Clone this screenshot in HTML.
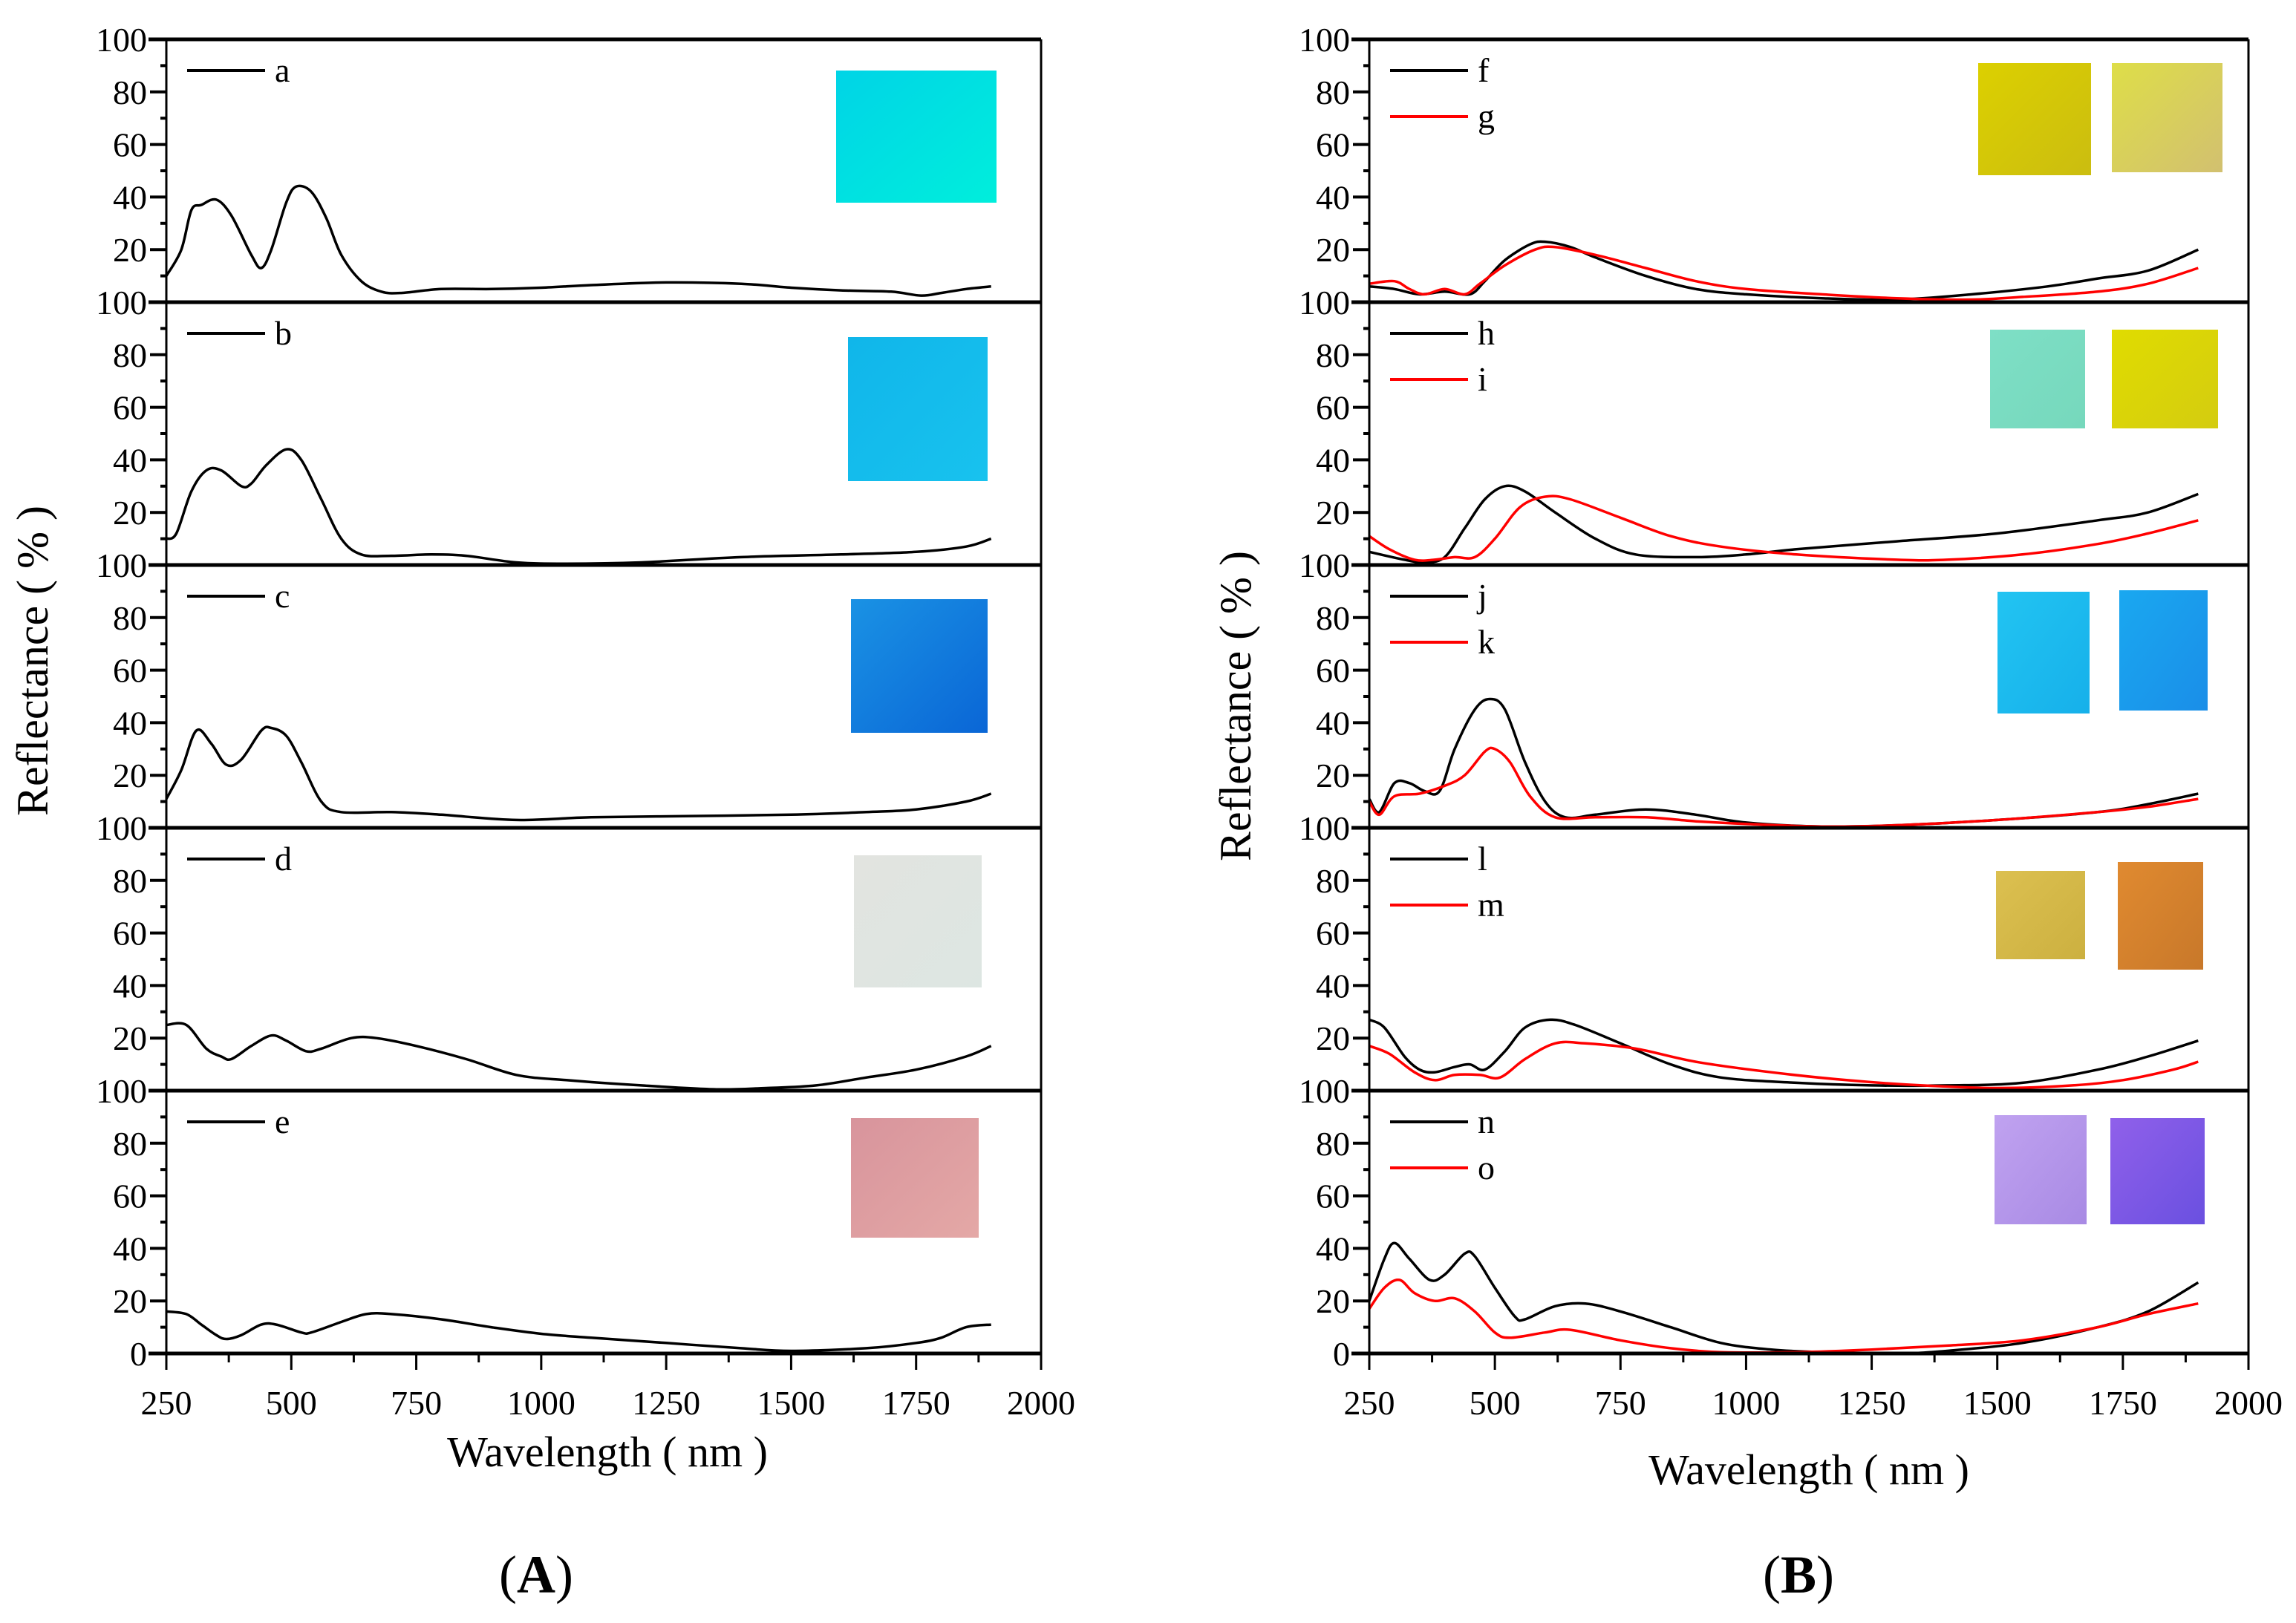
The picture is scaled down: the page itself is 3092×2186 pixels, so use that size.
<!DOCTYPE html>
<html><head><meta charset="utf-8"><style>
html,body{margin:0;padding:0;background:#fff;}
svg{display:block;font-family:"Liberation Serif",serif;}
</style></head><body>
<svg id="fig" width="3092" height="2186" viewBox="0 0 3092 2186" xmlns="http://www.w3.org/2000/svg">
<text x="44" y="890" font-size="60" text-anchor="middle" transform="rotate(-90 44 890) translate(0 20)">Reflectance ( % )</text>
<text x="1664" y="951" font-size="60" text-anchor="middle" transform="rotate(-90 1664 951) translate(0 20)">Reflectance ( % )</text>
<text x="818" y="1975" font-size="58" text-anchor="middle">Wavelength ( nm )</text>
<text x="2436" y="1999" font-size="58" text-anchor="middle">Wavelength ( nm )</text>
<text x="722" y="2145" font-size="72" text-anchor="middle">(<tspan font-weight="bold">A</tspan>)</text>
<text x="2422" y="2145" font-size="72" text-anchor="middle">(<tspan font-weight="bold">B</tspan>)</text>
</svg>
<script>
const xTicks = [250,500,750,1000,1250,1500,1750,2000];
const yTicks = [0,20,40,60,80,100];
const curveA = [[250,10],[280,20],[300,35],[320,37],[350,39],[380,33],[420,18],[440,13],[460,20],[490,38],[510,44],[540,42],[570,32],[600,18],[640,8],[680,4],[720,3.5],[800,5],[900,5],[1000,5.5],[1100,6.5],[1250,7.5],[1400,7],[1500,5.5],[1600,4.5],[1700,4],[1760,2.5],[1800,3.5],[1850,5],[1900,6]];
const curveB = [[250,10],[270,12],[300,28],[330,36],[360,36],[400,30],[420,31],[450,38],[490,44],[520,40],[560,25],[600,10],[640,4],[700,3.5],[780,4],[850,3.5],[950,1],[1050,0.5],[1200,1],[1400,3],[1600,4],[1750,5],[1850,7],[1900,10]];
const curveC = [[250,11],[280,22],[310,37],[340,32],[370,24],[400,26],[440,37],[460,38],[490,35],[520,25],[560,10],[600,6],[700,6],[800,5],[950,3],[1100,4],[1300,4.5],[1500,5],[1650,6],[1750,7],[1850,10],[1900,13]];
const curveD = [[250,25],[290,25],[330,16],[360,13],[380,12],[420,17],[460,21],[490,19],[530,15],[560,16],[620,20],[670,20],[750,17],[850,12],[950,6],[1050,4],[1200,2],[1350,0.5],[1450,1],[1550,2],[1650,5],[1750,8],[1850,13],[1900,17]];
const curveE = [[250,16],[290,15],[320,11],[350,7],[370,5.5],[400,7],[440,11],[470,11],[520,8],[540,8],[600,12],[650,15],[700,15],[800,13],[900,10],[1000,7.5],[1100,6],[1250,4],[1400,2],[1500,1],[1650,2],[1750,4],[1800,6],[1850,10],[1900,11]];
const curveF = [[250,6],[300,5],[350,3],[400,4],[450,3],[480,8],[520,16],[570,22],[600,23],[650,21],[700,17],[800,10],[900,5],[1000,3],[1150,1.5],[1300,1],[1450,3],[1600,6],[1700,9],[1800,12],[1900,20]];
const curveG = [[250,7],[300,8],[330,5],[360,3],[400,5],[440,3],[470,7],[520,14],[580,20],[620,21],[700,18],[800,13],[900,8],[1000,5],[1150,3],[1300,1.5],[1450,1],[1550,2],[1700,4],[1800,7],[1900,13]];
const curveH = [[250,5],[320,2],[360,1],[400,3],[440,14],[480,25],[520,30],[560,28],[620,20],[700,10],[780,4],[900,3],[1000,4],[1100,6],[1300,9],[1500,12],[1700,17],[1800,20],[1900,27]];
const curveI = [[250,11],[290,6],[340,2],[380,2],[420,3],[460,3],[500,10],[550,22],[600,26],[650,25],[750,18],[850,11],[950,7],[1100,4],[1300,2],[1400,2],[1550,4],[1700,8],[1800,12],[1900,17]];
const curveJ = [[250,11],[270,6],[300,17],[330,17],[360,14],[390,14],[420,30],[460,45],[490,49],[520,45],[560,25],[600,10],[640,4],[700,5],[800,7],[900,5],[1000,2],[1150,0.5],[1300,1],[1500,3],[1700,6],[1800,9],[1900,13]];
const curveK = [[250,10],[270,5],[300,12],[350,13],[400,16],[440,20],[480,29],[500,30],[530,25],[570,12],[620,4],[700,4],[800,4],[900,2.5],[1000,1.5],[1150,0.5],[1300,1],[1500,3],[1700,6],[1800,8],[1900,11]];
const curveL = [[250,27],[280,24],[320,13],[350,8],[380,7],[420,9],[450,10],[480,8],[520,15],[560,24],[610,27],[660,25],[750,18],[850,10],[950,5],[1100,3],[1250,2],[1400,2],[1550,3],[1700,8],[1800,13],[1900,19]];
const curveM = [[250,17],[290,14],[340,7],[380,4],[420,6],[470,6],[510,5],[560,12],[620,18],[680,18],[780,16],[900,11],[1050,7],[1200,4],[1350,2],[1500,1],[1650,2],[1750,4],[1850,8],[1900,11]];
const curveN = [[250,20],[280,36],[300,42],[330,36],[370,28],[400,30],[440,38],[460,37],[500,25],[540,14],[560,13],[620,18],[680,19],[750,16],[850,10],[950,4],[1050,1.5],[1150,0.5],[1300,0],[1400,1],[1550,4],[1700,10],[1800,16],[1900,27]];
const curveO = [[250,17],[280,25],[310,28],[340,23],[380,20],[420,21],[460,16],[500,8],[530,6],[600,8],[650,9],[750,5],[850,2],[950,0.5],[1100,0.5],[1250,1.5],[1400,3],[1550,5],[1700,10],[1800,15],[1900,19]];

const NS='http://www.w3.org/2000/svg';
const svg=document.getElementById('fig');
function mk(tag,attrs,parent){const e=document.createElementNS(NS,tag);for(const k in attrs)e.setAttribute(k,attrs[k]);(parent||svg).appendChild(e);return e;}
const P0=53, PH=354;
const cols=[{x0:224,x1:1402},{x0:1844,x1:3028}];
function xs(c,w){return c.x0+(w-250)/(2000-250)*(c.x1-c.x0);}
function ys(i,v){return P0+(i+1)*PH - v/100*PH;}
function pathD(c,i,pts){
  const p=pts.map(q=>[xs(c,q[0]),ys(i,q[1])]);
  let d='M'+p[0][0].toFixed(1)+','+p[0][1].toFixed(1);
  for(let k=0;k<p.length-1;k++){
    const a=p[Math.max(0,k-1)],b=p[k],c2=p[k+1],e=p[Math.min(p.length-1,k+2)];
    const c1x=b[0]+(c2[0]-a[0])/6,c1y=b[1]+(c2[1]-a[1])/6,c3x=c2[0]-(e[0]-b[0])/6,c3y=c2[1]-(e[1]-b[1])/6;
    d+=' C'+c1x.toFixed(1)+','+c1y.toFixed(1)+' '+c3x.toFixed(1)+','+c3y.toFixed(1)+' '+c2[0].toFixed(1)+','+c2[1].toFixed(1);
  }
  return d;
}
const panels=[
 {col:0,i:0,series:[['a',curveA,'#000']],sw:[[1126,95,216,178,'#00d4e6','#00eedc']]},
 {col:0,i:1,series:[['b',curveB,'#000']],sw:[[1142,454,188,194,'#10b6ea','#18c2ee']]},
 {col:0,i:2,series:[['c',curveC,'#000']],sw:[[1146,807,184,180,'#1a92e4','#0a66d6']]},
 {col:0,i:3,series:[['d',curveD,'#000']],sw:[[1150,1152,172,178,'#e2e4e0','#dde6e2']]},
 {col:0,i:4,series:[['e',curveE,'#000']],sw:[[1146,1506,172,161,'#d8949c','#e4a8a6']]},
 {col:1,i:0,series:[['f',curveF,'#000'],['g',curveG,'#f00']],sw:[[2664,85,152,151,'#dcd000','#cbbd10'],[2844,85,149,147,'#dede48','#d2c070']]},
 {col:1,i:1,series:[['h',curveH,'#000'],['i',curveI,'#f00']],sw:[[2680,444,128,133,'#7edfc6','#76d8bc'],[2844,444,143,133,'#e0dc00','#d4cc10']]},
 {col:1,i:2,series:[['j',curveJ,'#000'],['k',curveK,'#f00']],sw:[[2690,797,124,164,'#22c4f2','#16b0ea'],[2854,795,119,162,'#1aa8f0','#1a8ee8']]},
 {col:1,i:3,series:[['l',curveL,'#000'],['m',curveM,'#f00']],sw:[[2688,1173,120,119,'#dcc050','#ccb040'],[2852,1161,115,145,'#e08a30','#c8782a']]},
 {col:1,i:4,series:[['n',curveN,'#000'],['o',curveO,'#f00']],sw:[[2686,1502,124,147,'#c0a2f0','#a88ae4'],[2842,1506,127,143,'#9060ea','#6a50e0']]}
];
let gid=0;
panels.forEach(pn=>{
  const c=cols[pn.col], i=pn.i, top=P0+i*PH, bot=top+PH;
  const g=mk('g',{});
  
  
  pn.sw.forEach((s,k)=>{
    const id='gr'+(gid++);
    const lg=mk('linearGradient',{id:id,x1:'0',y1:'0',x2:'1',y2:'1'},g);
    mk('stop',{offset:'0','stop-color':s[4]},lg);mk('stop',{offset:'1','stop-color':s[5]},lg);
    const r=mk('rect',{x:s[0],y:s[1],width:s[2],height:s[3],fill:'url(#'+id+')'},g);
    
    
  });
  pn.series.forEach((s,k)=>{
    const p=mk('path',{d:pathD(c,i,s[1]),fill:'none',stroke:s[2],'stroke-width':3.5,'stroke-linejoin':'round'},g);
    
    
    const ly=top+42+k*62;
    const ln=mk('line',{x1:c.x0+28,x2:c.x0+133,y1:ly,y2:ly,stroke:s[2],'stroke-width':4},g);
    
    
    const t=mk('text',{x:c.x0+146,y:ly+15,'font-size':46},g);
    t.textContent=s[0];
    
    
  });
  mk('line',{x1:c.x0,x2:c.x0,y1:top,y2:bot,stroke:'#000','stroke-width':3},g);
  mk('line',{x1:c.x1,x2:c.x1,y1:top,y2:bot,stroke:'#000','stroke-width':3},g);
  mk('line',{x1:c.x0-24,x2:c.x1,y1:top,y2:top,stroke:'#000','stroke-width':5},g);
  for(let v=10;v<100;v+=10){
    const y=ys(i,v);
    mk('line',{x1:c.x0-(v%20===0?22:8),x2:c.x0,y1:y,y2:y,stroke:'#000','stroke-width':4},g);
  }
  yTicks.forEach(v=>{
    if(v===0 && i<4) return;
    const t=mk('text',{x:c.x0-26,y:ys(i,v)+16,'font-size':46,'text-anchor':'end'},g);
    t.textContent=v;
    
    
  });
  if(i===4){
    mk('line',{x1:c.x0-24,x2:c.x1,y1:bot,y2:bot,stroke:'#000','stroke-width':5},g);
    for(let w=250;w<=2000;w+=125){
      const x=xs(c,w);
      mk('line',{x1:x,x2:x,y1:bot,y2:bot+(w%250===0?22:12),stroke:'#000','stroke-width':3},g);
    }
    xTicks.forEach(w=>{
      const t=mk('text',{x:xs(c,w),y:bot+82,'font-size':46,'text-anchor':'middle'},g);
      t.textContent=w;
      
      
    });
  }
});
</script>
</body></html>
